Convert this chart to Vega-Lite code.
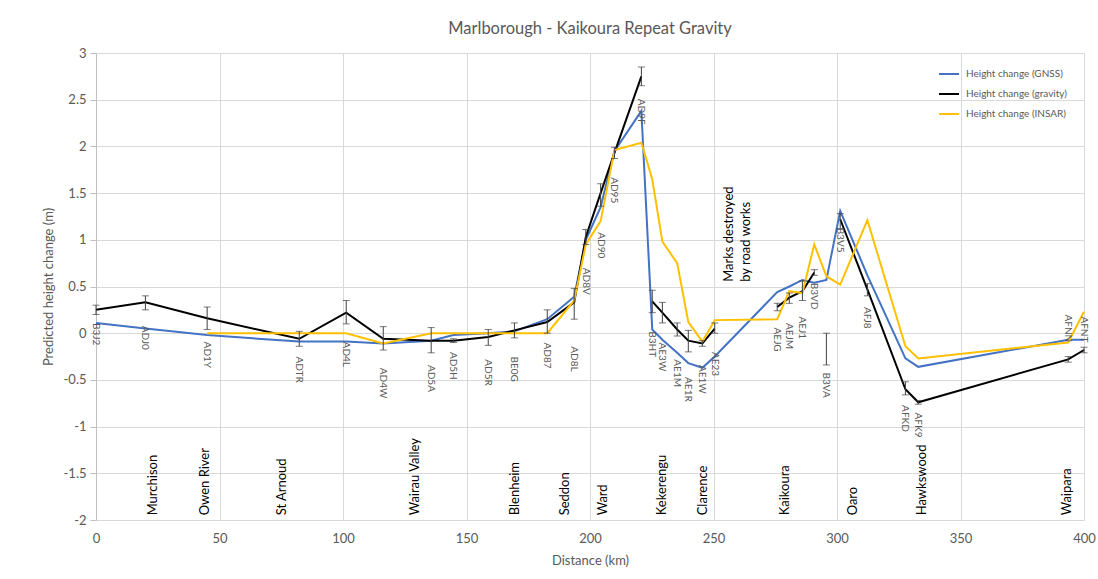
{
  "$schema": "https://vega.github.io/schema/vega-lite/v6.json",
  "width": 988,
  "height": 467,
  "autosize": {"type": "none"},
  "padding": {"left": 96, "top": 53, "right": 14, "bottom": 59},
  "background": "white",
  "config": {"font": "Lato", "view": {"stroke": null}},
  "title": {"text": "Marlborough - Kaikoura Repeat Gravity", "fontSize": 16.5, "fontWeight": "normal", "color": "#595959", "anchor": "middle", "offset": 10},
  "datasets": {
    "stations": [
      {"st": "B3J2", "km": 0, "gnss": 0.11, "grav": 0.25, "lo": 0.2, "hi": 0.3, "insar": null, "ly": 0.11, "gseg": 1},
      {"st": "ADJ0", "km": 20, "gnss": 0.05, "grav": 0.33, "lo": 0.25, "hi": 0.4, "insar": null, "ly": 0.08, "gseg": 1},
      {"st": "AD1Y", "km": 45, "gnss": -0.02, "grav": 0.16, "lo": 0.04, "hi": 0.28, "insar": 0, "ly": -0.09, "gseg": 1},
      {"st": "ADTR", "km": 82.3, "gnss": -0.09, "grav": -0.06, "lo": -0.14, "hi": 0.02, "insar": 0, "ly": -0.25, "gseg": 1},
      {"st": "AD4L", "km": 101.3, "gnss": -0.09, "grav": 0.22, "lo": 0.1, "hi": 0.35, "insar": 0, "ly": -0.09, "gseg": 1},
      {"st": "AD4W", "km": 116.3, "gnss": -0.11, "grav": -0.06, "lo": -0.18, "hi": 0.07, "insar": -0.11, "ly": -0.37, "gseg": 1},
      {"st": "AD5A", "km": 135.7, "gnss": -0.08, "grav": -0.08, "lo": -0.21, "hi": 0.06, "insar": 0, "ly": -0.34, "gseg": 1},
      {"st": "AD5H", "km": 144.7, "gnss": -0.02, "grav": -0.08, "lo": -0.1, "hi": -0.06, "insar": 0, "ly": -0.2, "gseg": 1},
      {"st": "AD5R", "km": 158.8, "gnss": 0, "grav": -0.04, "lo": -0.13, "hi": 0.04, "insar": 0, "ly": -0.28, "gseg": 1},
      {"st": "BE0G", "km": 169.4, "gnss": 0.02, "grav": 0.03, "lo": -0.05, "hi": 0.11, "insar": 0, "ly": -0.25, "gseg": 1},
      {"st": "AD87", "km": 182.7, "gnss": 0.15, "grav": 0.12, "lo": 0, "hi": 0.25, "insar": 0, "ly": -0.1, "gseg": 1},
      {"st": "AD8L", "km": 193.6, "gnss": 0.39, "grav": 0.33, "lo": 0.15, "hi": 0.48, "insar": 0.35, "ly": -0.14, "gseg": 1},
      {"st": "AD8V", "km": 198.3, "gnss": 1.0, "grav": 1.03, "lo": 0.95, "hi": 1.11, "insar": 0.95, "ly": 0.7, "gseg": 1},
      {"st": "AD90", "km": 204.3, "gnss": 1.35, "grav": 1.5, "lo": 1.36, "hi": 1.6, "insar": 1.2, "ly": 1.08, "gseg": 1},
      {"st": "AD95", "km": 209.9, "gnss": 1.95, "grav": 1.93, "lo": 1.87, "hi": 1.99, "insar": 1.96, "ly": 1.67, "gseg": 1},
      {"st": "AD9F", "km": 220.8, "gnss": 2.38, "grav": 2.75, "lo": 2.65, "hi": 2.85, "insar": 2.04, "ly": 2.51, "gseg": 1},
      {"st": "B3HT", "km": 225.2, "gnss": 0.04, "grav": 0.34, "lo": 0.22, "hi": 0.46, "insar": 1.65, "ly": 0.02, "gseg": 2},
      {"st": "AE3W", "km": 229.3, "gnss": -0.07, "grav": 0.22, "lo": 0.11, "hi": 0.33, "insar": 0.98, "ly": -0.1, "gseg": 2},
      {"st": "AE1M", "km": 235.3, "gnss": -0.21, "grav": 0.04, "lo": -0.03, "hi": 0.11, "insar": 0.75, "ly": -0.28, "gseg": 2},
      {"st": "AE1R", "km": 239.8, "gnss": -0.32, "grav": -0.08, "lo": -0.2, "hi": 0.03, "insar": 0.12, "ly": -0.47, "gseg": 2},
      {"st": "AE1W", "km": 245.5, "gnss": -0.37, "grav": -0.11, "lo": -0.14, "hi": -0.08, "insar": -0.09, "ly": -0.34, "gseg": 2},
      {"st": "AE23", "km": 250.5, "gnss": -0.25, "grav": 0.05, "lo": 0, "hi": 0.11, "insar": 0.14, "ly": -0.2, "gseg": 2},
      {"st": "AEJG", "km": 275.8, "gnss": 0.44, "grav": 0.28, "lo": 0.24, "hi": 0.32, "insar": 0.15, "ly": 0.06, "gseg": 3},
      {"st": "AEJM", "km": 280.7, "gnss": 0.5, "grav": 0.38, "lo": 0.32, "hi": 0.43, "insar": 0.45, "ly": 0.11, "gseg": 3},
      {"st": "AEJ1", "km": 286, "gnss": 0.57, "grav": 0.45, "lo": 0.35, "hi": 0.56, "insar": 0.43, "ly": 0.18, "gseg": 3},
      {"st": "B3VD", "km": 290.8, "gnss": 0.54, "grav": 0.65, "lo": 0.62, "hi": 0.68, "insar": 0.95, "ly": 0.54, "gseg": 3},
      {"st": "B3VA", "km": 295.7, "gnss": 0.57, "grav": null, "lo": -0.34, "hi": 0, "insar": 0.61, "ly": -0.42, "gseg": 0},
      {"st": "B3V5", "km": 301.3, "gnss": 1.31, "grav": 1.22, "lo": 1.12, "hi": 1.28, "insar": 0.52, "ly": 1.13, "gseg": 4},
      {"st": "AFJ8", "km": 312.3, "gnss": 0.62, "grav": 0.47, "lo": 0.4, "hi": 0.53, "insar": 1.21, "ly": 0.28, "gseg": 4},
      {"st": "AFKD", "km": 327.7, "gnss": -0.27, "grav": -0.6, "lo": -0.66, "hi": -0.52, "insar": -0.14, "ly": -0.77, "gseg": 4},
      {"st": "AFK9", "km": 332.9, "gnss": -0.36, "grav": -0.74, "lo": -0.76, "hi": -0.72, "insar": -0.27, "ly": -0.85, "gseg": 4},
      {"st": "AFNN", "km": 393.6, "gnss": -0.07, "grav": -0.28, "lo": -0.31, "hi": -0.25, "insar": -0.1, "ly": 0.2, "gseg": 4},
      {"st": "AFNT", "km": 400, "gnss": -0.07, "grav": -0.18, "lo": -0.21, "hi": -0.15, "insar": 0.23, "ly": 0.18, "gseg": 4}
    ],
    "towns": [
      {"town": "Murchison", "km": 23.2},
      {"town": "Owen River", "km": 44.2},
      {"town": "St Arnoud", "km": 75.4},
      {"town": "Wairau Valley", "km": 129.3},
      {"town": "Blenheim", "km": 169.8},
      {"town": "Seddon", "km": 190},
      {"town": "Ward", "km": 205.4},
      {"town": "Kekerengu", "km": 229.3},
      {"town": "Clarence", "km": 245.9},
      {"town": "Kaikoura", "km": 279},
      {"town": "Oaro", "km": 306.6},
      {"town": "Hawkswood", "km": 334.5},
      {"town": "Waipara", "km": 393.3}
    ],
    "notes": [
      {"note": "Marks destroyed", "km": 256.4, "y": 0.55},
      {"note": "by road works", "km": 263.3, "y": 0.55}
    ]
  },
  "layer": [
    {
      "data": {"name": "stations"},
      "mark": {"type": "line", "strokeWidth": 2},
      "encoding": {
        "x": {"field": "km", "type": "quantitative", "title": "Distance (km)", "scale": {"domain": [0, 400], "nice": false, "zero": false},
          "axis": {"values": [0, 50, 100, 150, 200, 250, 300, 350, 400], "labelFlush": false, "grid": true, "gridColor": "#d9d9d9", "domainColor": "#d9d9d9", "ticks": false, "labelPadding": 12, "labelFontSize": 13, "labelColor": "#595959", "titleFontSize": 13, "titleFontWeight": "normal", "titleColor": "#595959", "titlePadding": 9}},
        "y": {"field": "gnss", "type": "quantitative", "title": "Predicted height change (m)", "scale": {"domain": [-2, 3], "nice": false, "zero": false},
          "axis": {"values": [-2, -1.5, -1, -0.5, 0, 0.5, 1, 1.5, 2, 2.5, 3], "labelExpr": "'' + datum.value", "labelFlush": false, "grid": true, "gridColor": "#d9d9d9", "domainColor": "#bfbfbf", "tickColor": "#bfbfbf", "tickSize": 6, "labelPadding": 4, "labelFontSize": 13, "labelColor": "#595959", "titleFontSize": 13, "titleFontWeight": "normal", "titleColor": "#595959", "titlePadding": 8}},
        "color": {"datum": "Height change (GNSS)", "type": "nominal",
          "scale": {"domain": ["Height change (GNSS)", "Height change (gravity)", "Height change (INSAR)"], "range": ["#4472C4", "#000000", "#FFC000"]},
          "legend": {"orient": "none", "legendX": 842, "legendY": 10, "title": null, "symbolType": "stroke", "symbolStrokeWidth": 2, "symbolSize": 400, "labelFontSize": 10, "labelColor": "#595959", "rowPadding": 4, "padding": 0, "labelOffset": 6}}
      }
    },
    {
      "data": {"name": "stations"},
      "transform": [{"filter": "datum.grav != null"}],
      "mark": {"type": "line", "strokeWidth": 2},
      "encoding": {
        "x": {"field": "km", "type": "quantitative", "title": "Distance (km)"},
        "y": {"field": "grav", "type": "quantitative", "title": "Predicted height change (m)"},
        "detail": {"field": "gseg", "type": "nominal"},
        "color": {"datum": "Height change (gravity)", "type": "nominal"}
      }
    },
    {
      "data": {"name": "stations"},
      "transform": [{"filter": "datum.insar != null"}],
      "mark": {"type": "line", "strokeWidth": 2},
      "encoding": {
        "x": {"field": "km", "type": "quantitative", "title": "Distance (km)"},
        "y": {"field": "insar", "type": "quantitative", "title": "Predicted height change (m)"},
        "color": {"datum": "Height change (INSAR)", "type": "nominal"}
      }
    },
    {
      "data": {"name": "stations"},
      "mark": {"type": "errorbar", "ticks": {"size": 7}, "color": "#404040", "thickness": 1},
      "encoding": {
        "x": {"field": "km", "type": "quantitative", "title": "Distance (km)"},
        "y": {"field": "lo", "type": "quantitative", "title": "Predicted height change (m)"},
        "y2": {"field": "hi"}
      }
    },
    {
      "data": {"name": "stations"},
      "mark": {"type": "text", "angle": 90, "align": "left", "baseline": "middle", "fontSize": 10, "color": "#595959"},
      "encoding": {
        "x": {"field": "km", "type": "quantitative", "title": "Distance (km)"},
        "y": {"field": "ly", "type": "quantitative", "title": "Predicted height change (m)"},
        "text": {"field": "st"}
      }
    },
    {
      "data": {"name": "towns"},
      "mark": {"type": "text", "angle": 270, "align": "left", "baseline": "middle", "fontSize": 13, "color": "#000000"},
      "encoding": {
        "x": {"field": "km", "type": "quantitative", "title": "Distance (km)"},
        "y": {"datum": -1.95, "type": "quantitative", "title": "Predicted height change (m)"},
        "text": {"field": "town"}
      }
    },
    {
      "data": {"name": "notes"},
      "mark": {"type": "text", "angle": 270, "align": "left", "baseline": "middle", "fontSize": 13, "color": "#000000"},
      "encoding": {
        "x": {"field": "km", "type": "quantitative", "title": "Distance (km)"},
        "y": {"field": "y", "type": "quantitative", "title": "Predicted height change (m)"},
        "text": {"field": "note"}
      }
    }
  ]
}
